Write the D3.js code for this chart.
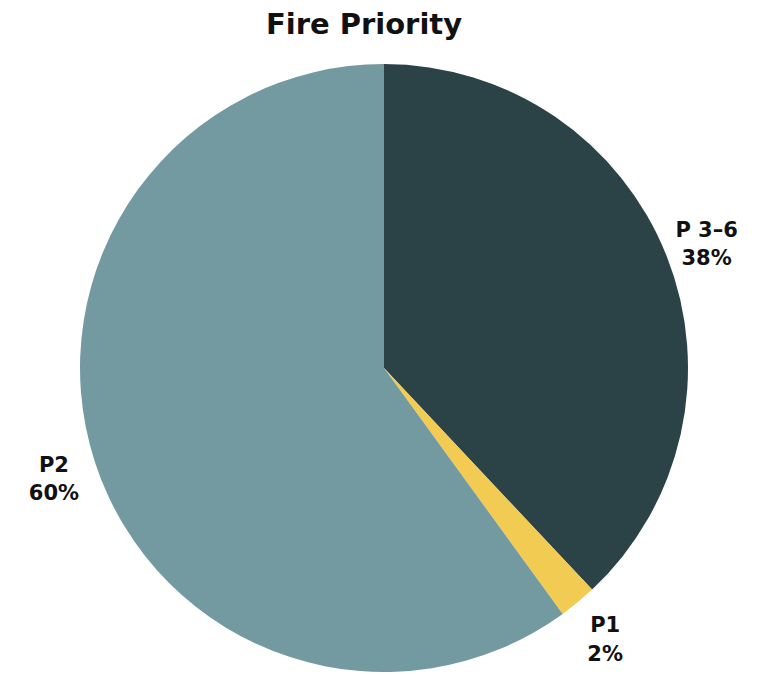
<!DOCTYPE html>
<html>
<head>
<meta charset="utf-8">
<script src="https://cdn.jsdelivr.net/npm/d3@7"></script>
<style>
  html, body { margin: 0; padding: 0; background: #fff; }
  svg { display: block; }
</style>
</head>
<body>
<svg id="chart"></svg>
<script>
const labels  = ["P 3–6", "P1", "P2"];
const values  = [38, 2, 60];
const colors  = ["#2b4346", "#f2cb52", "#739aa0"];

const W = 774, H = 675;
const cx = 384, cy = 368, R = 304, labelR = 347;
const FONT = "'DejaVu Sans', Inter, sans-serif";

const svg = d3.select("#chart").attr("width", W).attr("height", H);

svg.append("text")
    .attr("x", 364).attr("y", 34)
    .attr("text-anchor", "middle")
    .attr("font-family", FONT)
    .attr("font-weight", 700)
    .attr("font-size", 29)
    .attr("fill", "#111")
    .text("Fire Priority");

const data = labels.map((l, i) => ({ label: l, value: values[i], color: colors[i] }));
const pie = d3.pie().value(d => d.value).sort(null);
const arc = d3.arc().innerRadius(0).outerRadius(R);
const labelArc = d3.arc().innerRadius(labelR).outerRadius(labelR);

const g = svg.append("g").attr("transform", `translate(${cx},${cy})`);
const arcs = pie(data);

g.selectAll("path").data(arcs).join("path")
    .attr("d", arc)
    .attr("fill", d => d.data.color);

const lab = g.selectAll("text.lab").data(arcs).join("text")
    .attr("class", "lab")
    .attr("text-anchor", "middle")
    .attr("font-family", FONT)
    .attr("font-weight", 700)
    .attr("font-size", 21)
    .attr("fill", "#111")
    .attr("transform", d => { const [x, y] = labelArc.centroid(d); return `translate(${x},${y})`; });

lab.append("tspan").attr("x", 0).attr("dy", "-0.15em").text(d => d.data.label);
lab.append("tspan").attr("x", 0).attr("dy", "1.35em").text(d => d.data.value + "%");
</script>
</body>
</html>
